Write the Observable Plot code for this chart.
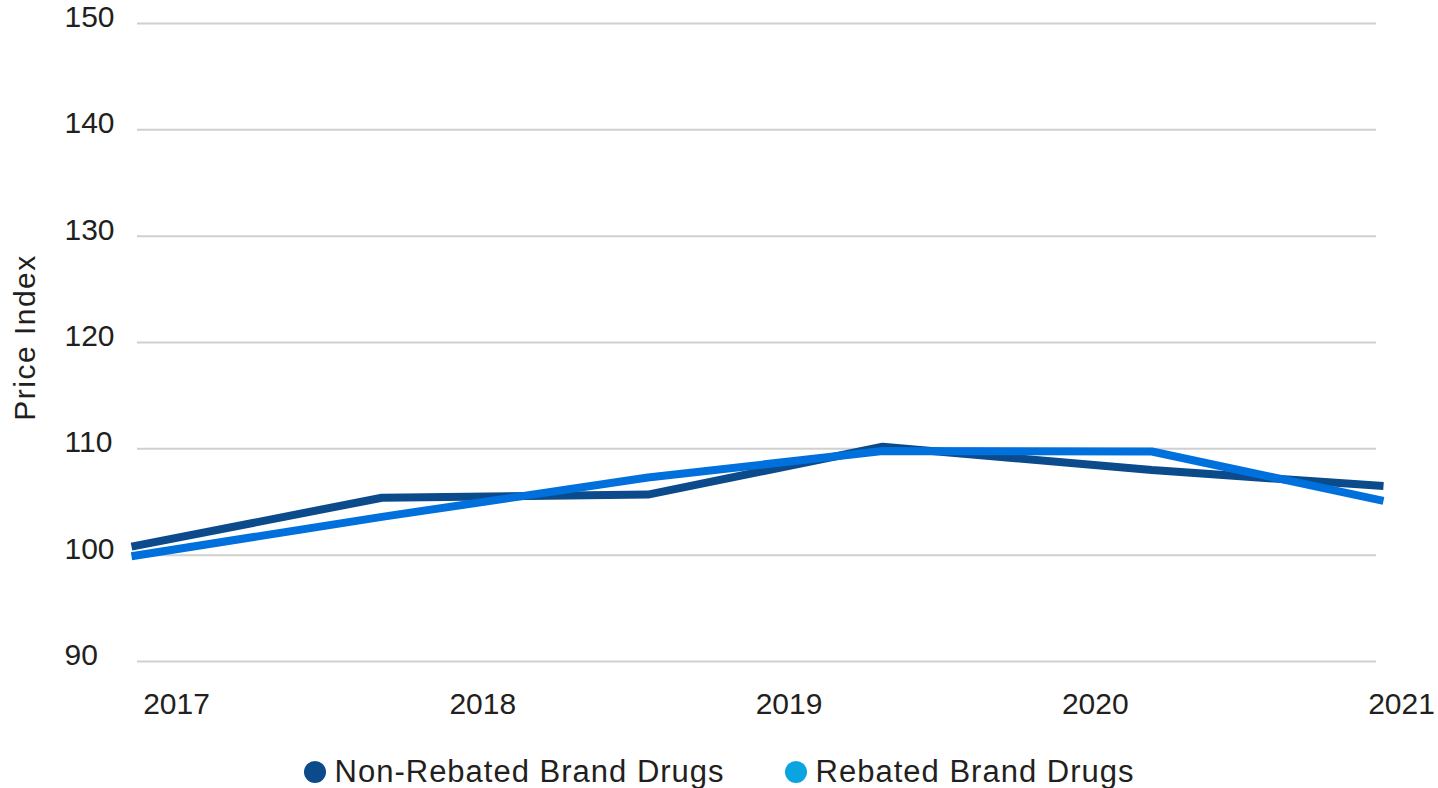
<!DOCTYPE html>
<html><head><meta charset="utf-8">
<script src="https://cdn.jsdelivr.net/npm/d3@7"></script>
<script src="https://cdn.jsdelivr.net/npm/@observablehq/plot@0.6"></script>
<style>
body{margin:0;background:#fff;font-family:"Liberation Sans",Arial,sans-serif;}
#chart{position:relative;width:1438px;height:788px;overflow:hidden;background:#fff}
#chart svg{position:absolute;left:0;top:0}
#legend{position:absolute;left:0;top:752px;width:1438px;height:40px;display:flex;justify-content:center;align-items:center;gap:60px;font-size:31px;letter-spacing:1px;color:#231f20;font-family:"Liberation Sans",Arial,sans-serif}
.item{display:flex;align-items:center;white-space:nowrap}
.sw{width:22px;height:22px;border-radius:50%;margin-right:9px;flex:none}
</style></head><body><div id="chart"></div>
<script>
const years = [2017, 2017.8, 2018.65, 2019.4, 2020.26, 2021];
const nonRebated = [100.8, 105.4, 105.7, 110.2, 108.0, 106.5];
const rebated = [99.9, 103.6, 107.3, 109.8, 109.75, 105.1];
const yTicks = [90, 100, 110, 120, 130, 140, 150];
const xTicks = [2017, 2018, 2019, 2020, 2021];
const seriesNames = ["Non-Rebated Brand Drugs", "Rebated Brand Drugs"];
const lineColors = ["#0b4a8b", "#0070dd"];
const swatchColors = ["#0b4a8b", "#0aa5e0"];
const yLabel = "Price Index";

const FONT = '"Liberation Sans",Arial,sans-serif';
const nonRows = years.map((x, i) => ({x, y: nonRebated[i]}));
const rebRows = years.map((x, i) => ({x, y: rebated[i]}));

const plot = Plot.plot({
  width: 1438, height: 730,
  marginLeft: 131, marginRight: 55, marginTop: 23, marginBottom: 69,
  x: {domain: [2017, 2021], axis: null},
  y: {domain: [90, 150], axis: null},
  style: {fontFamily: FONT, fontSize: "30px", color: "#231f20", background: "transparent"},
  marks: [
    Plot.ruleY(yTicks, {stroke: "#d0d0d0", strokeWidth: 2, insetLeft: 6, insetRight: 7}),
    Plot.axisY(yTicks, {tickSize: 0, tickPadding: 67, textAnchor: "start", dy: -6, label: null, fill: "#231f20"}),
    Plot.line(nonRows, {x: "x", y: "y", stroke: lineColors[0], strokeWidth: 8, strokeLinecap: "butt", strokeLinejoin: "miter"}),
    Plot.line(rebRows, {x: "x", y: "y", stroke: lineColors[1], strokeWidth: 8, strokeLinecap: "butt", strokeLinejoin: "miter"}),
    Plot.text([yLabel], {frameAnchor: "left", rotate: -90, textAnchor: "middle", dx: -106, dy: -5, fill: "#231f20", fontSize: 30})
  ]
});
// category-style x labels, laid out on their own band like the source chart
const xAxisPlot = Plot.plot({
  width: 1438, height: 730,
  marginLeft: 176, marginRight: 37, marginTop: 23, marginBottom: 69,
  x: {domain: [2017, 2021]},
  style: {fontFamily: FONT, fontSize: "30px", color: "#231f20", background: "transparent"},
  marks: [
    Plot.axisX(xTicks, {tickSize: 0, tickPadding: 31, tickFormat: d => String(d), label: null, fill: "#231f20"})
  ]
});
const chart = document.getElementById("chart");
chart.appendChild(plot);
chart.appendChild(xAxisPlot);
chart.querySelectorAll("svg text").forEach(t => { if (t.textContent === yLabel) t.style.letterSpacing = "1.5px"; });
const legend = document.createElement("div");
legend.id = "legend";
seriesNames.forEach((name, i) => {
  const item = document.createElement("div");
  item.className = "item";
  const sw = document.createElement("span");
  sw.className = "sw";
  sw.style.background = swatchColors[i];
  const t = document.createElement("span");
  t.textContent = name;
  item.appendChild(sw); item.appendChild(t);
  legend.appendChild(item);
});
chart.appendChild(legend);
</script></body></html>
